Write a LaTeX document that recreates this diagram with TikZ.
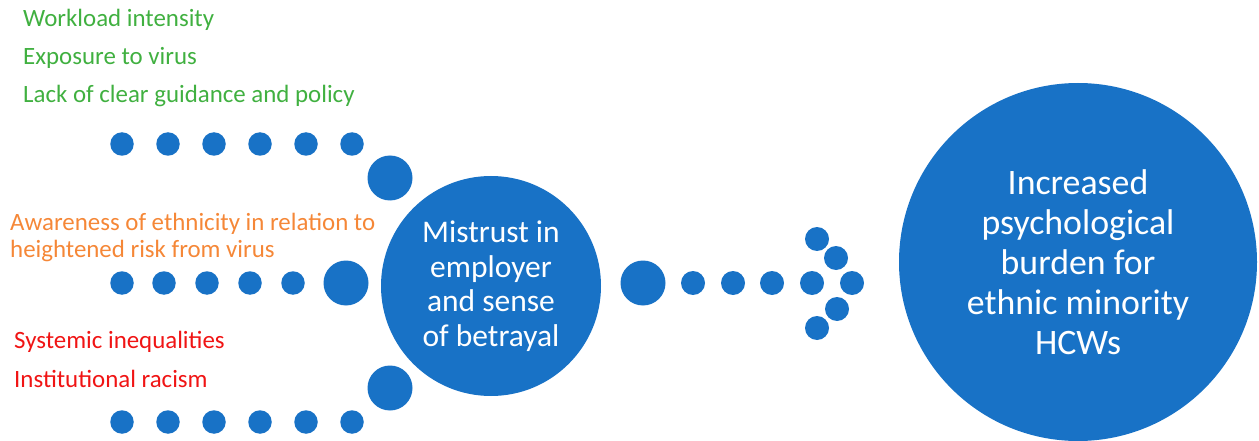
\documentclass[tikz,border=0pt]{standalone}
\usepackage{fontspec}
\setmainfont{Carlito}
\definecolor{cblue}{RGB}{24,114,198}
\definecolor{cgreen}{RGB}{64,176,64}
\definecolor{corange}{RGB}{245,135,55}
\definecolor{cred}{RGB}{240,20,20}
\begin{document}
\begin{tikzpicture}[x=1pt,y=-1pt,
  dot/.style={circle,fill=cblue,inner sep=0pt,minimum size=23.5pt},
  adot/.style={circle,fill=cblue,inner sep=0pt,minimum size=24pt},
  bigdot/.style={circle,fill=cblue,inner sep=0pt,minimum size=45pt},
  side/.style={anchor=base west,inner sep=0pt,font=\fontsize{24.9}{27}\selectfont,align=left},
  ctext/.style={text=white,align=center}]
\useasboundingbox (0,0) rectangle (1259,441);
% texts
\node[side,text=cgreen] (g1) at (23,27) {Workload intensity};
\node[side,text=cgreen] (g2) at (23,65) {Exposure to virus};
\node[side,text=cgreen] (g3) at (23,103) {Lack of clear guidance and policy};
\node[side,text=corange] (o1) at (10,230) {Awareness of ethnicity in relation to};
\node[side,text=corange] (o2) at (10,257) {heightened risk from virus};
\node[side,text=cred] (r1) at (14,348) {Systemic inequalities};
\node[side,text=cred] (r2) at (14,387) {Institutional racism};
% top row
\foreach \x [count=\i] in {122,168,214,260,306,352} \node[dot] (t\i) at (\x,144) {};
\node[bigdot] (tb) at (390,178) {};
% middle row
\foreach \x [count=\i] in {122,164,207,250,293} \node[dot] (m\i) at (\x,283) {};
\node[bigdot] (mb) at (346,283) {};
% bottom row
\foreach \x [count=\i] in {122,168,214,260,306,352} \node[dot] (b\i) at (\x,422) {};
\node[bigdot] (bb) at (390,388) {};
% centre circle
\node[circle,fill=cblue,inner sep=0pt,minimum size=220pt,ctext,font=\fontsize{31.5}{34.5}\selectfont] (mid) at (491,286) {Mistrust in\\employer\\and sense\\of betrayal};
% arrow
\node[bigdot] (a0) at (643,283) {};
\foreach \x [count=\i] in {693,733,772,812,852} \node[adot] (a\i) at (\x,283) {};
\node[adot] (u1) at (817,239) {};
\node[adot] (u2) at (836,258) {};
\node[adot] (l1) at (837,309) {};
\node[adot] (l2) at (817,328) {};
% right circle
\node[circle,fill=cblue,inner sep=0pt,minimum size=358pt,ctext,font=\fontsize{35.8}{40}\selectfont] (res) at (1078,262) {Increased\\psychological\\burden for\\ethnic minority\\HCWs};
\end{tikzpicture}
\end{document}
